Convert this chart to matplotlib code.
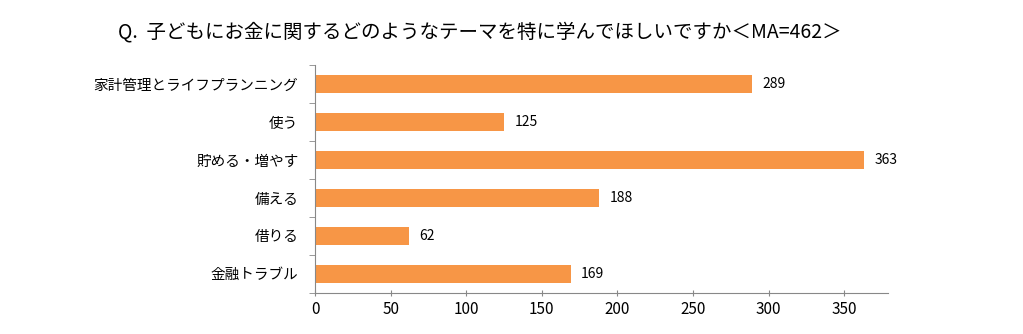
import numpy as np
import matplotlib.pyplot as plt

plt.rcParams['font.family'] = ['Noto Sans CJK JP', 'DejaVu Sans']

categories = ["家計管理とライフプランニング", "使う", "貯める・増やす", "備える", "借りる", "金融トラブル"]
values = [289, 125, 363, 188, 62, 169]
xticks = [0, 50, 100, 150, 200, 250, 300, 350]

fig = plt.figure(figsize=(10.23, 3.34), dpi=100)
ax = fig.add_axes([0.308, 0.123, 0.56, 0.682])

y = np.arange(len(categories))
ax.barh(y, values, height=0.48, color="#F79646")
for yi, v in zip(y, values):
    ax.text(v + 7, yi, str(v), va="center", ha="left", fontsize=10)

ax.set_ylim(len(categories) - 0.5, -0.5)
ax.set_xlim(0, 379)
ax.set_yticks(y)
ax.set_yticklabels(categories, fontsize=10.5)
ax.set_yticks(np.arange(-0.5, len(categories)), minor=True)
ax.tick_params(axis="y", which="major", length=0, pad=12)
ax.tick_params(axis="y", which="minor", length=4, color="#888888", direction="out")
ax.set_xticks(xticks)
ax.tick_params(axis="x", length=4, color="#888888", direction="inout", labelsize=11, pad=4)

for s in ["top", "right"]:
    ax.spines[s].set_visible(False)
for s in ["left", "bottom"]:
    ax.spines[s].set_color("#888888")

fig.text(0.469, 0.905, "Q.  子どもにお金に関するどのようなテーマを特に学んでほしいですか＜MA=462＞",
         ha="center", va="center", fontsize=14)

fig.savefig("out.png", dpi=100)
